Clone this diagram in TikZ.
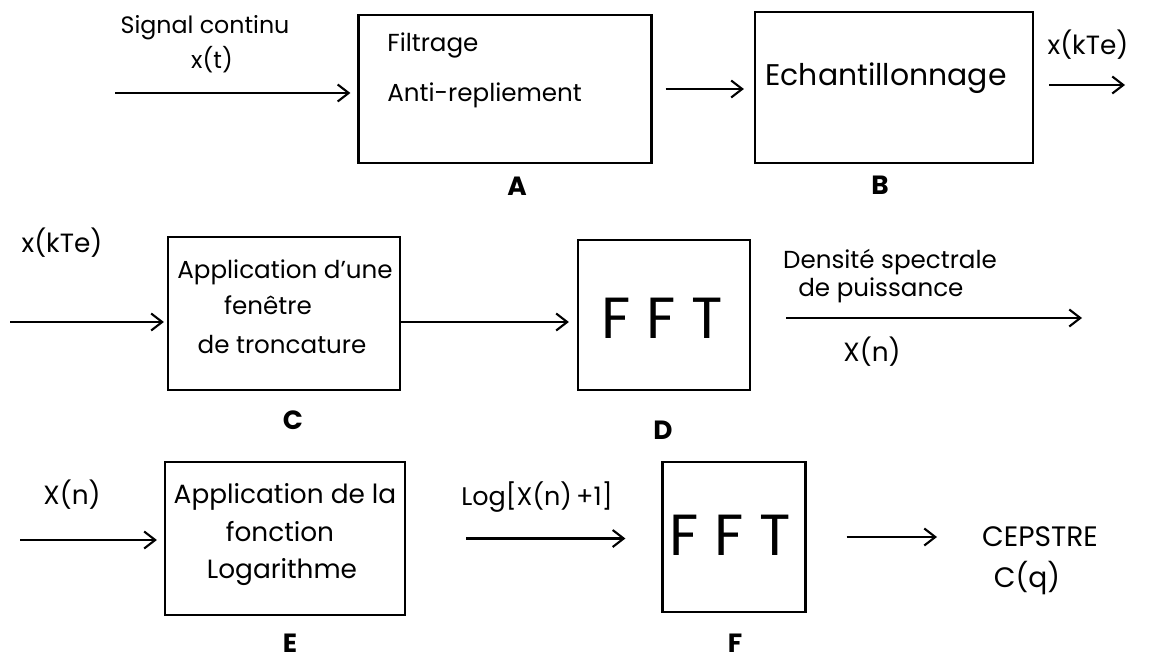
\documentclass[tikz,border=0pt]{standalone}
\usepackage{fontspec}
\setmainfont{Poppins}
\usetikzlibrary{arrows.meta}
\begin{document}
\begin{tikzpicture}[x=0.02cm,y=-0.02cm,
  box/.style={draw, line width=1.3pt, inner sep=0pt},
  arr/.style={-{Straight Barb[length=2.2mm,width=3.4mm,line width=1.2pt]}, line width=1.2pt},
  lbl/.style={font=\fontsize{13.5}{16}\selectfont, inner sep=0pt},
  txt/.style={font=\fontsize{14}{17}\selectfont, inner sep=0pt},
  fft/.style={font=\fontsize{33}{37}\selectfont, inner sep=0pt},
  tag/.style={font=\fontsize{15}{18}\selectfont\bfseries, inner sep=0pt}]
\useasboundingbox (0,0) rectangle (1165,662);

% Boxes
\node[box, minimum width=5.86cm, minimum height=2.96cm] (A) at (505,89) {};
\node[box, minimum width=5.56cm, minimum height=3.02cm] (B) at (894,87.5) {};
\node[box, minimum width=4.64cm, minimum height=3.06cm] (C) at (284,313.5) {};
\node[box, minimum width=3.44cm, minimum height=3.00cm] (D) at (664,315) {};
\node[box, minimum width=4.80cm, minimum height=3.06cm] (E) at (285,538.5) {};
\node[box, minimum width=2.86cm, minimum height=3.00cm] (F) at (734,537) {};

% Box texts
\node[txt, anchor=west] (tA1) at (387,45) {Filtrage};
\node[txt, anchor=west] (tA2) at (387,95) {Anti-repliement};
\node[txt, font=\fontsize{17}{20}\selectfont] (tB) at (886,78) {Echantillonnage};
\node[txt] (tC1) at (285,272) {Application d'une};
\node[txt] (tC2) at (268,305) {fenêtre};
\node[txt] (tC3) at (282,345) {de troncature};
\node[fft] (tD) at (662,318) {F F T};
\node[txt, font=\fontsize{15}{18}\selectfont] (tE1) at (285,497) {Application de la};
\node[txt, font=\fontsize{15}{18}\selectfont] (tE2) at (280,532) {fonction};
\node[txt, font=\fontsize{15}{18}\selectfont] (tE3) at (282,572) {Logarithme};
\node[fft] (tF) at (730,535) {F F T};

% Tags
\node[tag] (gA) at (517,186) {A};
\node[tag] (gB) at (880,185) {B};
\node[tag] (gC) at (293,420) {C};
\node[tag] (gD) at (663,430) {D};
\node[tag] (gE) at (290,643) {E};
\node[tag] (gF) at (735,643) {F};

% Labels
\node[lbl] (l1) at (205,28) {Signal continu};
\node[lbl] (l2) at (212,60) {x(t)};
\node[lbl, font=\fontsize{15}{18}\selectfont] (l3) at (1088,45) {x(kTe)};
\node[lbl, font=\fontsize{15}{18}\selectfont] (l4) at (62,243) {x(kTe)};
\node[lbl, font=\fontsize{14}{17}\selectfont] (l5) at (890,262) {Densité spectrale};
\node[lbl, font=\fontsize{14}{17}\selectfont, anchor=west] (l6) at (798,290) {de puissance};
\node[lbl, font=\fontsize{15}{18}\selectfont] (l7) at (872,352) {X(n)};
\node[lbl, font=\fontsize{15}{18}\selectfont] (l8) at (72,495) {X(n)};
\node[lbl, font=\fontsize{14.5}{17}\selectfont] (l9) at (537,497) {Log[X(n)\,+1]};
\node[lbl, font=\fontsize{16}{19}\selectfont] (l10) at (1040,537) {CEPSTRE};
\node[lbl, font=\fontsize{16}{19}\selectfont] (l11) at (1027,578) {C(q)};

% Free ends
\coordinate (inA) at (115,93);
\coordinate (outB) at (1125,85);
\coordinate (inC) at (10,322);
\coordinate (outD) at (1082,318);
\coordinate (inE) at (20,540);
\coordinate (outF) at (937,537);

% Connectors
\draw[arr, shorten >=0.14cm] (inA) -- (inA -| A.west);
\draw[arr, shorten <=0.26cm, shorten >=0.2cm] (A.east) -- (A.east -| B.west);
\draw[arr, shorten <=0.3cm] (B.east |- outB) -- (outB);
\draw[arr, shorten >=0.06cm] (inC) -- (inC -| C.west);
\draw[arr, shorten >=0.16cm] (C.east |- inC) -- (inC -| D.west);
\draw[arr, shorten <=0.7cm] (D.east |- outD) -- (outD);
\draw[arr, shorten >=0.14cm] (inE) -- (inE -| E.west);
\draw[arr, shorten <=1.2cm, shorten >=0.72cm] (E.east) -- (E.east -| F.west);
\draw[arr, shorten <=0.8cm] (F.east |- outF) -- (outF);
\end{tikzpicture}
\end{document}
